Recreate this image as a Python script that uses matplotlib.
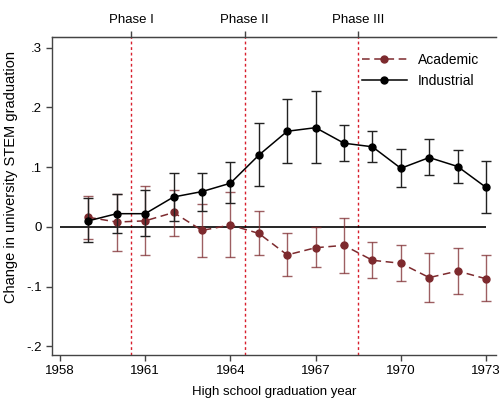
import numpy as np
import matplotlib.pyplot as plt

years = np.arange(1959, 1974)

industrial = [0.010, 0.022, 0.022, 0.050, 0.059, 0.073, 0.120, 0.160, 0.166, 0.140,
              0.134, 0.098, 0.116, 0.101, 0.066]
industrial_hi = [0.048, 0.055, 0.061, 0.090, 0.090, 0.108, 0.174, 0.214, 0.228, 0.170,
                 0.161, 0.131, 0.147, 0.129, 0.110]
industrial_lo = [-0.025, -0.011, -0.016, 0.010, 0.027, 0.040, 0.068, 0.107, 0.107, 0.111,
                 0.108, 0.066, 0.086, 0.073, 0.023]

academic = [0.016, 0.008, 0.010, 0.024, -0.006, 0.003, -0.011, -0.047, -0.035, -0.031,
            -0.056, -0.061, -0.085, -0.074, -0.087]
academic_hi = [0.051, 0.055, 0.069, 0.062, 0.038, 0.059, 0.026, -0.011, -0.001, 0.014,
               -0.026, -0.031, -0.044, -0.035, -0.047]
academic_lo = [-0.021, -0.040, -0.048, -0.016, -0.050, -0.051, -0.048, -0.083, -0.068, -0.077,
               -0.086, -0.091, -0.126, -0.112, -0.125]

phase_years = [1960.5, 1964.5, 1968.5]
phase_labels = ["Phase I", "Phase II", "Phase III"]

xticks = [1958, 1961, 1964, 1967, 1970, 1973]
yticks = [-0.2, -0.1, 0.0, 0.1, 0.2, 0.3]
ytick_labels = ["-.2", "-.1", "0", ".1", ".2", ".3"]

plt.rcParams.update({
    "font.family": ["Liberation Sans", "DejaVu Sans"],
    "font.size": 9,
})

MAROON = "#7d2a2e"
PHASE_RED = "#d81e2c"
SPINE = "#444444"

fig = plt.figure(figsize=(5.0, 4.01), dpi=100)
ax = fig.add_axes([0.104, 0.115, 0.888, 0.793])

ax.hlines(0, 1958, 1973, color="black", linewidth=1.2, zorder=2)

for xp in phase_years:
    ax.axvline(xp, color=PHASE_RED, linewidth=1.0, linestyle=(0, (2, 2)), zorder=1)

ind = np.array(industrial)
aca = np.array(academic)

ax.errorbar(years, aca,
            yerr=[aca - np.array(academic_lo), np.array(academic_hi) - aca],
            fmt="none", ecolor=MAROON, alpha=0.75, elinewidth=1.0,
            capsize=3.5, capthick=1.0, zorder=3)
ax.plot(years, aca, color=MAROON, linestyle=(0, (5, 3)), linewidth=1.1,
        marker="o", markersize=5, label="Academic", zorder=4)

ax.errorbar(years, ind,
            yerr=[ind - np.array(industrial_lo), np.array(industrial_hi) - ind],
            fmt="none", ecolor="#222222", elinewidth=1.0,
            capsize=3.5, capthick=1.0, zorder=5)
ax.plot(years, ind, color="black", linewidth=1.1,
        marker="o", markersize=5, label="Industrial", zorder=6)

ax.set_xlim(1957.72, 1973.35)
ax.set_ylim(-0.2144, 0.318)
ax.set_xticks(xticks)
ax.set_yticks(yticks)
ax.set_yticklabels(ytick_labels)

ax.spines["right"].set_visible(False)
for s in ["left", "bottom", "top"]:
    ax.spines[s].set_color(SPINE)
    ax.spines[s].set_linewidth(1.0)
ax.tick_params(direction="out", length=4, width=1.0, color=SPINE, labelsize=9.5)

top = ax.secondary_xaxis("top")
top.set_xticks(phase_years)
top.set_xticklabels(phase_labels)
top.tick_params(direction="out", length=4, width=1.0, color=SPINE, labelsize=9.5)
top.spines["top"].set_color(SPINE)

ax.set_xlabel("High school graduation year", fontsize=9.5, labelpad=6)
ax.set_ylabel("Change in university STEM graduation", fontsize=10.5)
ax.yaxis.set_label_coords(-0.077, 0.56)

ax.legend(loc="upper right", bbox_to_anchor=(0.99, 0.99), frameon=False,
          fontsize=10, handlelength=3.2, labelspacing=0.5)

fig.savefig("out.png", dpi=100)
